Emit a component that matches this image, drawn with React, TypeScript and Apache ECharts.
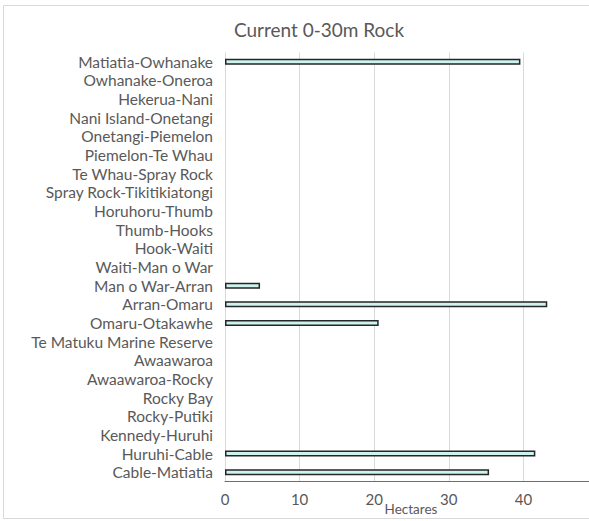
import React, { useEffect, useRef } from "react";
import * as echarts from "echarts";

const categories = [
  "Matiatia-Owhanake",
  "Owhanake-Oneroa",
  "Hekerua-Nani",
  "Nani Island-Onetangi",
  "Onetangi-Piemelon",
  "Piemelon-Te Whau",
  "Te Whau-Spray Rock",
  "Spray Rock-Tikitikiatongi",
  "Horuhoru-Thumb",
  "Thumb-Hooks",
  "Hook-Waiti",
  "Waiti-Man o War",
  "Man o War-Arran",
  "Arran-Omaru",
  "Omaru-Otakawhe",
  "Te Matuku Marine Reserve",
  "Awaawaroa",
  "Awaawaroa-Rocky",
  "Rocky Bay",
  "Rocky-Putiki",
  "Kennedy-Huruhi",
  "Huruhi-Cable",
  "Cable-Matiatia",
];

const hectares = [
  39.6, 0, 0, 0, 0, 0, 0, 0, 0, 0, 0, 0, 4.7, 43.2, 20.6, 0, 0, 0, 0, 0, 0, 41.6, 35.4,
];

const xTicks = [0, 10, 20, 30, 40, 50];
const titleText = "Current 0-30m Rock";
const axisName = "Hectares";

const FONT = "Lato";

export default function App() {
  const ref = useRef<HTMLDivElement>(null);
  useEffect(() => {
    if (!ref.current) return;
    const chart = echarts.init(ref.current, undefined, { renderer: "svg" });
    chart.setOption({
      animation: false,
      backgroundColor: "#ffffff",
      title: {
        text: titleText,
        left: 314,
        textAlign: "center",
        top: 15,
        textStyle: { color: "#595959", fontSize: 19, fontWeight: "normal", fontFamily: FONT },
      },
      graphic: [
        {
          type: "rect",
          shape: { x: 3.5, y: 5.5, width: 640, height: 513 },
          style: { fill: "none", stroke: "#d9d9d9", lineWidth: 1 },
          silent: true,
        },
        {
          type: "text",
          x: 411,
          y: 509,
          style: {
            text: axisName,
            fill: "#595959",
            font: `13.5px ${FONT}`,
            textAlign: "center",
            textVerticalAlign: "middle",
          },
        },
      ],
      grid: {
        left: 225,
        width: 373,
        top: 52.5,
        height: 429,
        containLabel: false,
        outerBoundsMode: "none",
      },
      xAxis: {
        type: "value",
        min: xTicks[0],
        max: xTicks[xTicks.length - 1],
        interval: 10,
        axisLine: { show: true, lineStyle: { color: "#4472c4", width: 1 } },
        axisTick: { show: false },
        splitLine: { show: true, lineStyle: { color: "#d9d9d9", width: 1 } },
        axisLabel: {
          color: "#595959",
          fontSize: 15,
          fontFamily: FONT,
          margin: 10,
          formatter: (v: number) => (v !== 50 ? String(v) : ""),
        },
      },
      yAxis: {
        type: "category",
        data: categories,
        inverse: true,
        axisLine: { show: false },
        axisTick: { show: false },
        splitLine: { show: false },
        axisLabel: {
          color: "#595959",
          fontSize: 15.5,
          fontFamily: FONT,
          margin: 12,
          interval: 0,
        },
      },
      series: [
        {
          type: "bar",
          data: hectares.map((v) =>
            v === 0 ? { value: v, itemStyle: { borderWidth: 0, opacity: 0 } } : v
          ),
          barWidth: 6,
          itemStyle: {
            color: "#cdf3ee",
            borderColor: "#262626",
            borderWidth: 1.5,
          },
        },
      ],
    });
    return () => chart.dispose();
  }, []);
  return (
    <div
      ref={ref}
      style={{ position: "fixed", left: 0, top: 0, width: 589, height: 521 }}
    />
  );
}
